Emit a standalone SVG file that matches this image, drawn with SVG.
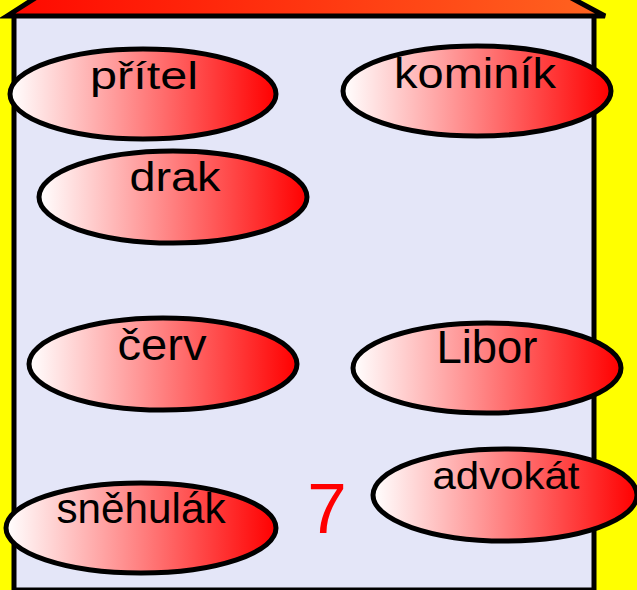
<svg xmlns="http://www.w3.org/2000/svg" width="637" height="590" viewBox="0 0 637 590">
  <defs>
    <linearGradient id="ellGrad" x1="0" y1="0" x2="1" y2="0">
      <stop offset="0" stop-color="#ffffff"/>
      <stop offset="1" stop-color="#ff0000"/>
    </linearGradient>
    <linearGradient id="roofGrad" x1="0" y1="0" x2="1" y2="0">
      <stop offset="0" stop-color="#ff0800"/>
      <stop offset="1" stop-color="#ff6420"/>
    </linearGradient>
  </defs>
  <style>
    .ell { fill: url(#ellGrad); stroke: #000000; stroke-width: 5; }
    .lbl { font-family: "Liberation Sans", Arial, sans-serif; fill: #000000; text-anchor: middle; }
    .num { font-family: "Liberation Sans", Arial, sans-serif; fill: #ff0000; text-anchor: middle; }
  </style>
  <rect x="0" y="0" width="637" height="590" fill="#ffff00"/>
  <g id="house">
    <rect x="14" y="15" width="580" height="575" fill="#e4e6f8" stroke="#000000" stroke-width="5"/>
    <polygon points="7,16 54,-14 549,-14 605,16" fill="url(#roofGrad)" stroke="#000000" stroke-width="5" stroke-linejoin="miter"/>
  </g>
  <g id="node-pritel">
    <ellipse class="ell" cx="143" cy="94" rx="133" ry="45"/>
    <text class="lbl" x="144" y="89" font-size="38" textLength="108" lengthAdjust="spacingAndGlyphs">přítel</text>
  </g>
  <g id="node-kominik">
    <ellipse class="ell" cx="477" cy="91" rx="134" ry="45"/>
    <text class="lbl" x="475" y="88" font-size="42" textLength="162" lengthAdjust="spacingAndGlyphs">kominík</text>
  </g>
  <g id="node-drak">
    <ellipse class="ell" cx="173" cy="197" rx="134" ry="46"/>
    <text class="lbl" x="175" y="191" font-size="40" textLength="91" lengthAdjust="spacingAndGlyphs">drak</text>
  </g>
  <g id="node-cerv">
    <ellipse class="ell" cx="163" cy="364" rx="134" ry="46"/>
    <text class="lbl" x="162" y="360" font-size="44" textLength="89" lengthAdjust="spacingAndGlyphs">červ</text>
  </g>
  <g id="node-libor">
    <ellipse class="ell" cx="487" cy="368" rx="134" ry="45"/>
    <text class="lbl" x="487" y="363" font-size="46" textLength="101" lengthAdjust="spacingAndGlyphs">Libor</text>
  </g>
  <g id="node-snehulak">
    <ellipse class="ell" cx="141" cy="528" rx="135" ry="45"/>
    <text class="lbl" x="141" y="523" font-size="42" textLength="169" lengthAdjust="spacingAndGlyphs">sněhulák</text>
  </g>
  <g id="node-advokat">
    <ellipse class="ell" cx="505" cy="495" rx="132" ry="46"/>
    <text class="lbl" x="506" y="489" font-size="38" textLength="147" lengthAdjust="spacingAndGlyphs">advokát</text>
  </g>
  <g id="node-seven">
    <text class="num" x="327" y="533" font-size="71">7</text>
  </g>
</svg>
